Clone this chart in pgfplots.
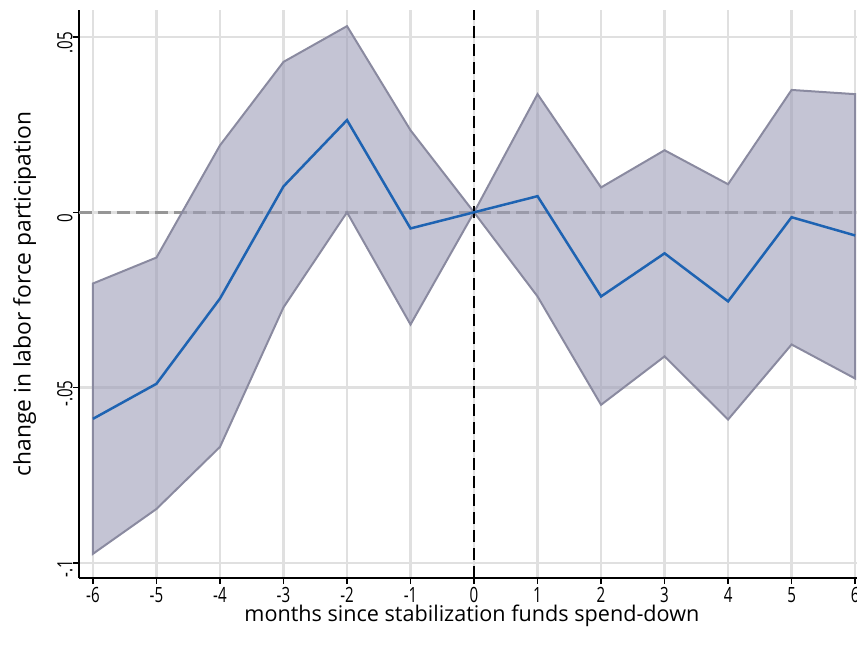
\documentclass[border=0pt]{standalone}
\usepackage{pgfplots}
\pgfplotsset{compat=1.18}
\usepackage{fontspec}
\setmainfont{Open Sans}
\newfontfamily\tickfont[FakeStretch=0.72]{Open Sans}
\definecolor{bandfill}{RGB}{157,157,183}
\definecolor{bandline}{RGB}{138,138,160}
\definecolor{meanblue}{RGB}{30,99,178}
\definecolor{gridc}{RGB}{224,224,224}
\definecolor{zeroc}{RGB}{150,150,150}
\begin{document}
\begin{tikzpicture}
\useasboundingbox (-39.5pt,-36pt) rectangle (389pt,289pt);
\begin{axis}[
  scale only axis,
  width=389pt, height=284pt,
  xmin=-6.22, xmax=6.03,
  ymin=-0.1043, ymax=0.0577,
  axis lines=left,
  axis line style={-, line width=0.75pt},
  xtick={-6,-5,...,6},
  ytick={-0.1,-0.05,0,0.05},
  yticklabels={-.1,-.05,0,.05},
  tick align=outside,
  major tick length=3pt,
  tick style={black, line width=0.75pt},
  grid=major,
  major grid style={gridc, line width=1.2pt},
  /pgf/number format/assume math mode=true,
  ticklabel style={font=\tickfont\fontsize{10.5}{12}\selectfont},
  xticklabel style={inner sep=0pt, yshift=-1.5pt},
  yticklabel style={rotate=90, anchor=south, inner sep=0pt, xshift=-3pt},
  xlabel={months since stabilization funds spend-down},
  ylabel={change in labor force participation},
  xlabel style={font=\fontsize{10.8}{12}\selectfont, at={(axis description cs:0.505,-0.066)}, anchor=center},
  ylabel style={font=\fontsize{11.4}{13}\selectfont, at={(axis description cs:-0.07,0.5)}, anchor=center},
  clip=false,
]
\addplot[zeroc, dash pattern=on 6.5pt off 3pt, line width=1.2pt] coordinates {(-6.22,0) (6.03,0)};
\addplot[fill=bandfill, fill opacity=0.6, draw=bandline, line width=1pt] coordinates {
(-6,-0.0203) (-5,-0.0129) (-4,0.0191) (-3,0.0429) (-2,0.0531) (-1,0.0234) (0,0) (1,0.0337) (2,0.0071) (3,0.0177) (4,0.0080) (5,0.0349) (6,0.0337)
(6,-0.0474) (5,-0.0377) (4,-0.0591) (3,-0.0411) (2,-0.0549) (1,-0.0240) (0,0) (-1,-0.0320) (-2,0) (-3,-0.0271) (-4,-0.0669) (-5,-0.0846) (-6,-0.0974)
} -- cycle;
\addplot[black, dash pattern=on 6pt off 3pt, line width=1.1pt] coordinates {(0,-0.1043) (0,0.0577)};
\addplot[meanblue, line width=1.25pt] coordinates {
(-6,-0.0589) (-5,-0.0489) (-4,-0.0246) (-3,0.0074) (-2,0.0263) (-1,-0.0046) (0,0) (1,0.0046) (2,-0.0240) (3,-0.0117) (4,-0.0254) (5,-0.0014) (6,-0.0066)
};
\end{axis}
\end{tikzpicture}
\end{document}
